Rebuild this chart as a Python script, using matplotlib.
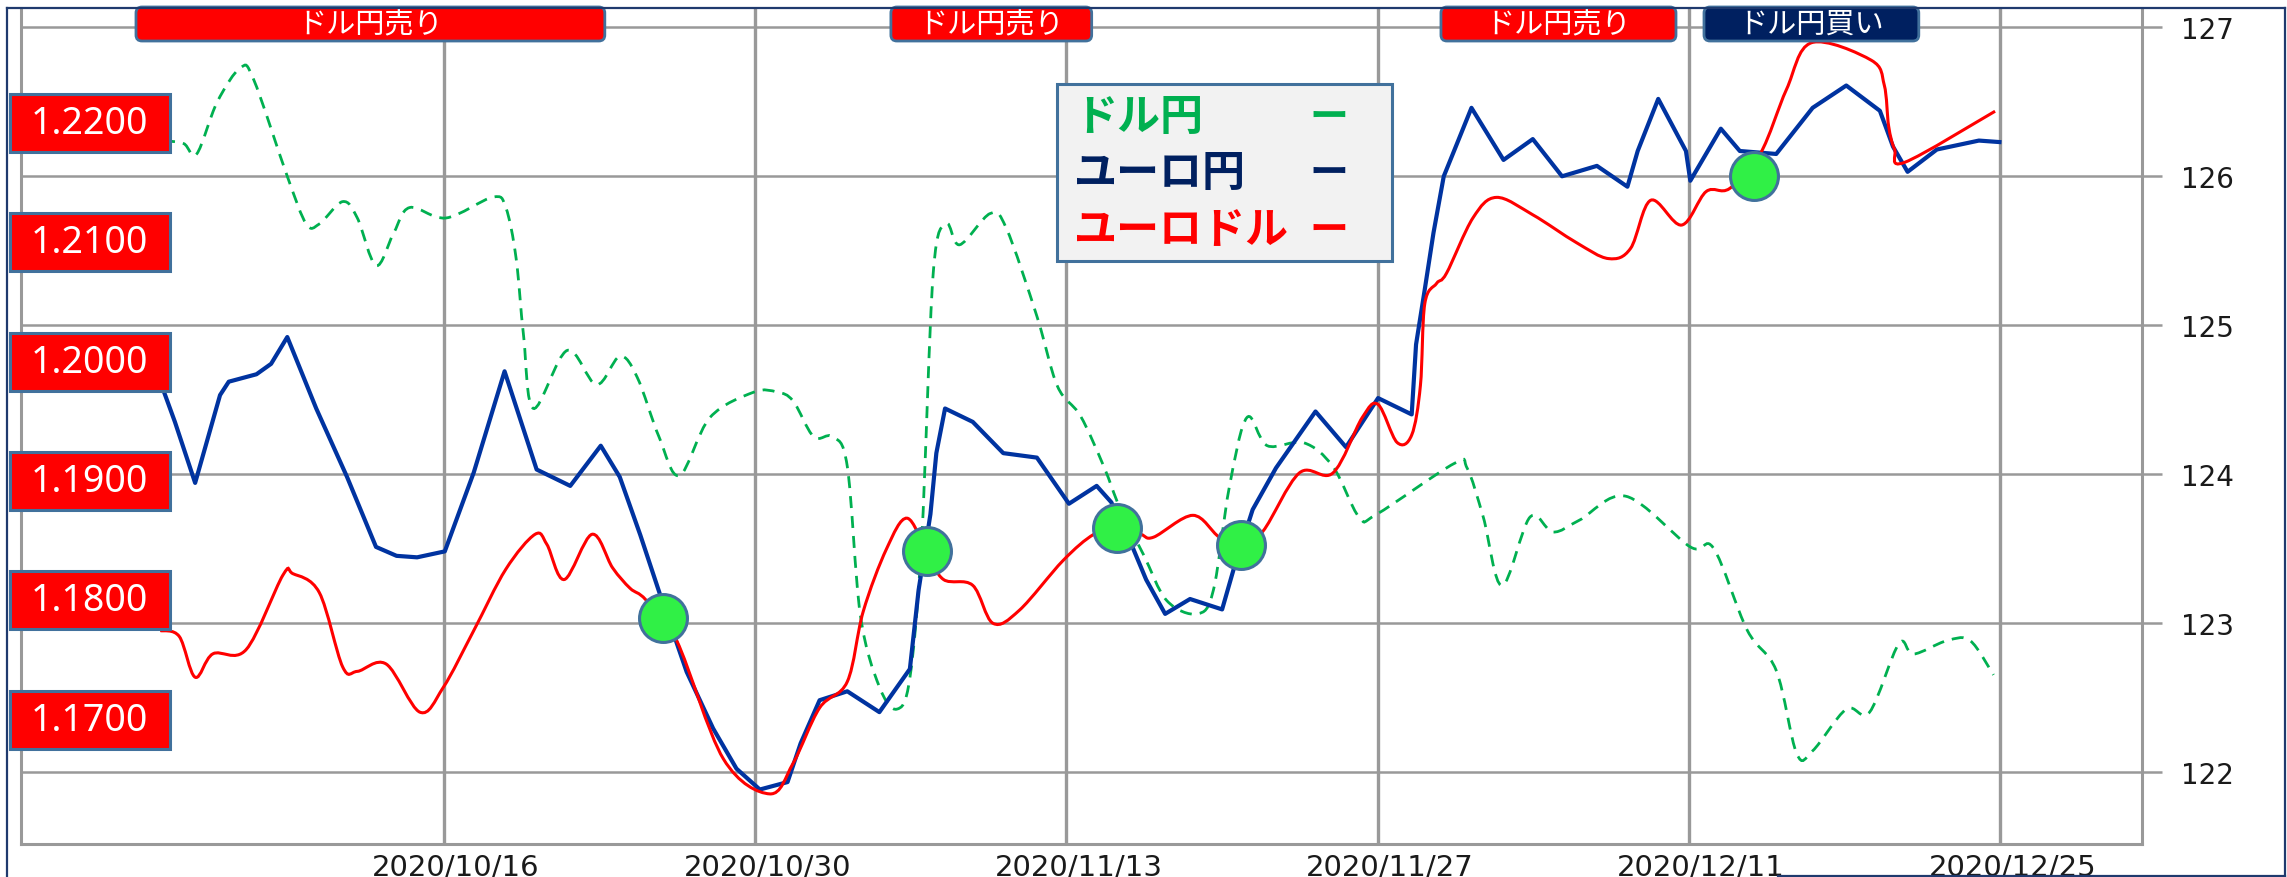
import numpy as np
import matplotlib.pyplot as plt
import matplotlib.transforms as mtransforms
from matplotlib.patches import FancyBboxPatch, Rectangle, PathPatch
from matplotlib.lines import Line2D
from matplotlib.path import Path

plt.rcParams['font.family'] = ['Noto Sans CJK JP', 'DejaVu Sans']

W, H = 2287, 878

# x = business days counted from 2020/10/16
tick_pos = [0, 10, 20, 30, 40, 50]
tick_labels = ["2020/10/16", "2020/10/30", "2020/11/13",
               "2020/11/27", "2020/12/11", "2020/12/25"]
eurjpy_ticks = [122, 123, 124, 125, 126, 127]
eurusd_ticks = [1.2200, 1.2100, 1.2000, 1.1900, 1.1800, 1.1700]

# ユーロ円 (right scale)
eurjpy_x = [-9.11, -8.64, -7.99, -7.19, -6.91, -6.02, -5.55, -5.03, -4.10, -3.11,
            -2.18, -1.52, -0.86, 0.03, 0.96, 1.95, 2.98, 4.06, 5.04, 5.65,
            6.31, 6.96, 7.80, 8.65, 9.40, 10.15, 11.04, 11.46, 12.07, 12.96,
            13.99, 14.97, 15.25, 15.63, 15.82, 16.10, 16.99, 17.97, 19.05, 20.08,
            20.97, 21.44, 22.14, 22.56, 23.17, 23.97, 25.00, 25.37, 25.98, 26.73,
            28.00, 28.98, 30.01, 31.09, 31.23, 31.51, 31.79, 32.12, 32.45, 33.01,
            34.04, 34.98, 35.92, 37.04, 38.02, 38.35, 39.01, 39.90, 40.04, 41.02,
            41.63, 42.80, 43.97, 45.05, 46.13, 46.55, 47.02, 47.96, 49.31, 49.97]
eurjpy = [124.62, 124.35, 123.94, 124.53, 124.62, 124.67, 124.74, 124.92, 124.44, 123.98,
          123.51, 123.45, 123.44, 123.48, 124.01, 124.69, 124.03, 123.92, 124.19, 123.98,
          123.59, 123.18, 122.67, 122.29, 122.02, 121.88, 121.93, 122.19, 122.48, 122.54,
          122.40, 122.69, 123.22, 123.73, 124.14, 124.44, 124.35, 124.14, 124.11, 123.80,
          123.92, 123.81, 123.50, 123.29, 123.06, 123.16, 123.09, 123.36, 123.76, 124.04,
          124.42, 124.18, 124.51, 124.40, 124.87, 125.24, 125.62, 126.00, 126.17, 126.46,
          126.11, 126.25, 126.00, 126.07, 125.93, 126.17, 126.52, 126.17, 125.97, 126.32,
          126.17, 126.15, 126.46, 126.61, 126.44, 126.20, 126.03, 126.18, 126.24, 126.23]

# ユーロドル (left scale)
eurusd_x = [-9.11, -8.50, -7.99, -7.42, -6.35, -5.17, -4.85, -4.00, -3.25, -2.78,
            -1.85, -0.77, -0.02, 0.96, 1.99, 2.93, 3.31, 3.87, 4.76, 5.42,
            5.98, 6.49, 7.48, 8.98, 10.47, 11.22, 12.07, 12.96, 13.47, 14.22,
            14.88, 15.53, 16.05, 16.99, 17.64, 18.49, 19.89, 20.88, 21.63, 22.38,
            22.80, 24.06, 24.91, 25.61, 26.31, 27.48, 28.56, 29.50, 30.01, 30.62,
            31.09, 31.37, 31.51, 31.89, 32.21, 33.06, 33.81, 34.98, 36.38, 37.41,
            38.12, 38.77, 39.76, 40.55, 41.30, 42.29, 43.13, 43.93, 45.85, 46.27,
            46.41, 46.60, 46.93, 49.83]
eurusd = [1.17747, 1.17698, 1.17356, 1.17552, 1.17588, 1.18212, 1.18224, 1.18065, 1.17442, 1.17405,
          1.17466, 1.17063, 1.17270, 1.17747, 1.18261, 1.18554, 1.18469, 1.18175, 1.18554, 1.18273,
          1.18102, 1.18004, 1.17662, 1.16671, 1.16378, 1.16635, 1.17099, 1.17319, 1.17906, 1.18432,
          1.18689, 1.18395, 1.18175, 1.18126, 1.17808, 1.17918, 1.18334, 1.18554, 1.18603, 1.18554,
          1.18530, 1.18713, 1.18530, 1.18469, 1.18579, 1.19068, 1.19068, 1.19532, 1.19642, 1.19324,
          1.19386, 1.19801, 1.20486, 1.20657, 1.20743, 1.21207, 1.21378, 1.21232, 1.20999, 1.20865,
          1.20950, 1.21354, 1.21146, 1.21427, 1.21452, 1.21745, 1.22283, 1.22674, 1.22528, 1.22320,
          1.21977, 1.21782, 1.21672, 1.22100]

# ドル円 (no scale of its own, drawn against the right scale)
usdjpy_x = [-9.02, -8.36, -7.94, -7.28, -6.53, -6.11, -5.03, -4.42, -4.00, -3.25,
            -2.78, -2.18, -1.61, -1.10, 0.07, 1.57, 1.99, 2.32, 2.56, 2.88,
            3.96, 4.90, 5.65, 6.21, 6.91, 7.57, 8.55, 9.96, 10.71, 11.22,
            11.88, 12.49, 12.96, 13.38, 13.99, 14.55, 14.97, 15.35, 15.72, 16.14,
            16.57, 17.55, 18.07, 19.05, 19.71, 20.45, 21.20, 21.72, 22.47, 23.22,
            24.20, 24.72, 25.23, 25.80, 26.45, 27.62, 28.56, 29.40, 29.97, 32.45,
            32.87, 33.39, 33.99, 34.89, 35.63, 36.48, 37.98, 40.04, 40.79, 41.87,
            42.80, 43.46, 43.97, 45.05, 45.80, 46.74, 47.21, 48.28, 49.03, 49.78]
usdjpy = [126.24, 126.22, 126.15, 126.50, 126.73, 126.65, 126.00, 125.68, 125.68, 125.83,
          125.72, 125.40, 125.62, 125.79, 125.72, 125.86, 125.79, 125.45, 124.93, 124.44,
          124.83, 124.60, 124.79, 124.65, 124.25, 123.99, 124.38, 124.55, 124.55, 124.49,
          124.25, 124.25, 124.05, 123.05, 122.57, 122.42, 122.63, 123.56, 125.35, 125.68,
          125.54, 125.75, 125.65, 125.06, 124.59, 124.39, 124.05, 123.77, 123.46, 123.15,
          123.06, 123.22, 123.91, 124.38, 124.19, 124.21, 124.05, 123.71, 123.73, 124.07,
          124.04, 123.71, 123.25, 123.71, 123.61, 123.69, 123.85, 123.51, 123.50, 122.95,
          122.68, 122.12, 122.14, 122.42, 122.40, 122.86, 122.79, 122.88, 122.88, 122.65]

# signal points
signal_x = [7.05, 15.53, 21.63, 25.61, 42.10]
signal_y = [123.03, 123.48, 123.64, 123.52, 126.00]

# signal periods (start, end in business days)
banner_start = [-9.89, 14.36, 32.03, 40.48]
banner_end = [5.17, 20.81, 39.58, 47.38]
banner_text = ["ドル円売り", "ドル円売り", "ドル円売り", "ドル円買い"]
banner_color = ["#FF0000", "#FF0000", "#FF0000", "#002060"]


def smooth_path(x, y):
    # smoothed line through the points (Bezier segments, like a spreadsheet "smooth line")
    p = np.column_stack([x, y])
    verts = [p[0]]
    codes = [Path.MOVETO]
    n = len(p)
    for i in range(n - 1):
        p0 = p[i - 1] if i > 0 else p[i]
        p3 = p[i + 2] if i + 2 < n else p[i + 1]
        verts += [p[i] + (p[i + 1] - p0) / 6, p[i + 1] - (p3 - p[i]) / 6, p[i + 1]]
        codes += [Path.CURVE4] * 3
    return Path(verts, codes)


fig = plt.figure(figsize=(W / 100, H / 100), dpi=100)
ax = fig.add_axes([20.5 / W, 1 - 845 / H, (2142 - 20.5) / W, (845 - 10) / H])
ax.set_xlim(-13.6, 54.55)
ax.set_ylim(121.514, 127.124)
ax2 = ax.twinx()
ax2.set_ylim(1.15958, 1.22957)
ax2.axis('off')

grid_c = '#999999'
ax.set_xticks(tick_pos)
ax.set_xticklabels(tick_labels, family='DejaVu Sans')
ax.set_yticks(eurjpy_ticks)
ax.set_yticklabels([str(t) for t in eurjpy_ticks], family='DejaVu Sans')
ax.yaxis.tick_right()
ax.tick_params(axis='y', length=14.4, width=1.8, color=grid_c, pad=13.5,
               labelsize=20, labelcolor='#1a1a1a')
ax.tick_params(axis='x', length=0, pad=6, labelsize=21, labelcolor='#1a1a1a')
ax.grid(axis='x', color=grid_c, lw=2.4)
ax.grid(axis='y', color=grid_c, lw=1.8)
ax.set_axisbelow(True)
for s in ['left', 'bottom', 'right']:
    ax.spines[s].set_color(grid_c)
    ax.spines[s].set_linewidth(2.2)
ax.spines['top'].set_visible(False)

shift = mtransforms.ScaledTranslation(12 / 100, 0, fig.dpi_scale_trans)
for lab in ax.get_xticklabels():
    lab.set_transform(lab.get_transform() + shift)

green = PathPatch(smooth_path(usdjpy_x, usdjpy), fill=False, edgecolor='#00B050',
                  lw=2.0, linestyle=(0, (4.3, 2.9)), zorder=2)
ax.add_patch(green)
ax.plot(eurjpy_x, eurjpy, color='#0033A0', lw=3.0, zorder=3)
red = PathPatch(smooth_path(eurusd_x, eurusd), fill=False, edgecolor='#FF0000',
                lw=2.2, zorder=4, transform=ax2.transData)
ax.add_patch(red)
ax.plot(signal_x, signal_y, 'o', ms=34.5, mfc='#30F046', mec='#41719C', mew=2.2,
        zorder=6, linestyle='none')

ident = mtransforms.IdentityTransform()
edge = '#41719C'

# left euro-dollar labels
for v in eurusd_ticks:
    yc = ax2.transData.transform((0, v))[1]
    fig.add_artist(Rectangle((10, yc - 29), 160, 58, transform=ident,
                             facecolor='#FF0000', edgecolor=edge, lw=2.2, zorder=5))
    fig.text(89 / W, yc / H, f"{v:.4f}", color='white', fontsize=27, family='Noto Sans',
             ha='center', va='center', zorder=6)

# signal banners
for x0, x1, t, c in zip(banner_start, banner_end, banner_text, banner_color):
    px0 = ax.transData.transform((x0, 0))[0]
    px1 = ax.transData.transform((x1, 0))[0]
    fig.add_artist(FancyBboxPatch((px0, H - 42), px1 - px0, 34, transform=ident,
                                  boxstyle='round,pad=0,rounding_size=6',
                                  facecolor=c, edgecolor=edge, lw=2.0, zorder=5))
    fig.text((px0 + px1) / 2 / W, 1 - 25 / H, t, color='white', fontsize=21,
             ha='center', va='center', zorder=6)

# legend box
fig.add_artist(Rectangle((1057, H - 262), 335, 177, transform=ident,
                         facecolor='#F2F2F2', edgecolor=edge, lw=2.2, zorder=5))
leg = [("ドル円", '#00B050', 117), ("ユーロ円", '#002060', 173), ("ユーロドル", '#FF0000', 230)]
for t, c, y in leg:
    fig.text(1074 / W, 1 - y / H, t, color=c, fontsize=31, fontweight='bold',
             ha='left', va='center', zorder=6)
    fig.text(1329 / W, 1 - y / H, "ー", color=c, fontsize=28, fontweight='bold',
             ha='center', va='center', zorder=6)

# outer frame
fc = '#1F3A6E'
for xs, ys in [([7, 7], [0, H - 9]), ([7, 2285], [H - 9, H - 9]),
               ([2285, 2285], [H - 9, 1]), ([1778, 2285], [1, 1])]:
    fig.add_artist(Line2D(xs, ys, transform=ident, color=fc, lw=1.6, zorder=7))

fig.savefig('out.png', dpi=100)
